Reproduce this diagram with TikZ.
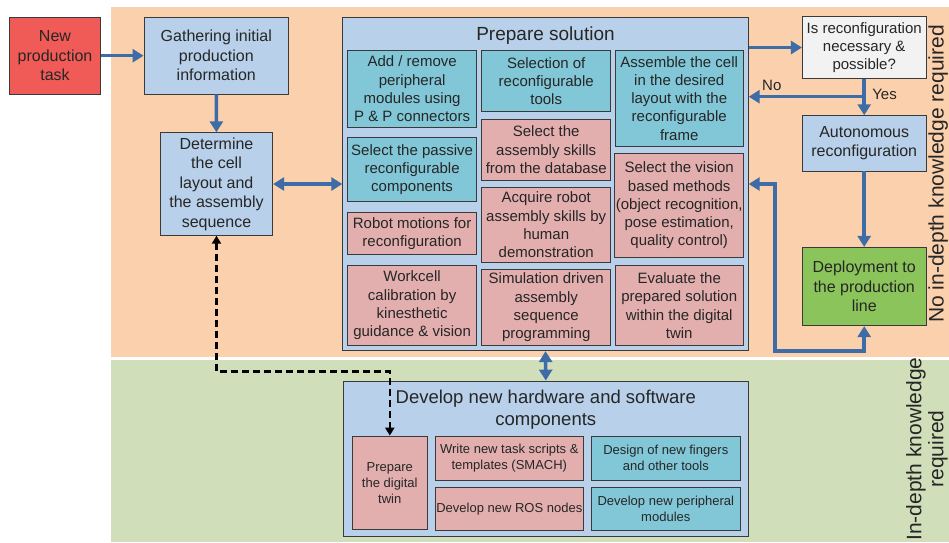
\documentclass[tikz,border=0pt]{standalone}
\usepackage{fontspec}
\setmainfont{Liberation Sans}
\usepackage{tikz}
\usetikzlibrary{arrows.meta,positioning,calc}

\definecolor{orangebg}{HTML}{FBD0AC}
\definecolor{greenbg}{HTML}{D0DFBA}
\definecolor{boxblue}{HTML}{B9D0EA}
\definecolor{boxteal}{HTML}{82C7D7}
\definecolor{boxpink}{HTML}{E2AFAE}
\definecolor{boxred}{HTML}{F15B57}
\definecolor{boxgreen}{HTML}{8BC45A}
\definecolor{boxgray}{HTML}{F2F2F2}
\definecolor{boxline}{HTML}{3A3A3A}
\definecolor{arrowblue}{HTML}{3D6CA6}
\definecolor{txt}{HTML}{262626}

\tikzset{sz/.style 2 args={minimum width=#1, minimum height=#2}}

\begin{document}
\begin{tikzpicture}[x=1pt,y=-1pt]
  \tikzstyle{box}=[draw=boxline, line width=0.8pt, align=center, text=txt, inner sep=1pt, font=\fontsize{16}{19.5}\selectfont]
  \tikzstyle{bluebox}=[box, fill=boxblue]
  \tikzstyle{tealbox}=[box, fill=boxteal, font=\fontsize{15}{18.3}\selectfont]
  \tikzstyle{pinkbox}=[box, fill=boxpink, font=\fontsize{15}{18.3}\selectfont]
  \tikzstyle{small}=[font=\fontsize{13}{16}\selectfont]
  \tikzstyle{arr}=[draw=arrowblue, line width=3.5pt, -{Triangle[length=11pt,width=13pt]}]
  \tikzstyle{arr2}=[draw=arrowblue, line width=3.5pt, {Triangle[length=11pt,width=13pt]}-{Triangle[length=11pt,width=13pt]}]
  \tikzstyle{dasharr}=[draw=black, line width=2.6pt, dash pattern=on 7pt off 4pt, {Triangle[length=8pt,width=9pt]}-{Triangle[length=8pt,width=9pt]}]

  \useasboundingbox (0,0) rectangle (949,542);

  % knowledge areas
  \fill[orangebg] (111,7.3) rectangle (949,356.7);
  \fill[greenbg] (111,360) rectangle (949,542);
  \node[rotate=90, anchor=base, text=txt, inner sep=0pt, font=\fontsize{21}{24}\selectfont] (noknow) at (943.5,174) {No in-depth knowledge required};
  \node[rotate=90, align=center, text=txt, inner sep=0pt, font=\fontsize{21}{22}\selectfont] (know) at (927,449) {In-depth knowledge\\required};

  % left column
  \node[box, fill=boxred, sz={91.4}{76.7}] (task) at (55,55.7) {New\\production\\task};
  \node[bluebox, sz={144.7}{76.7}] (gather) at (216.3,55.7) {Gathering initial\\production\\information};
  \node[bluebox, sz={112.4}{102.6}] (layout) at (216.5,184) {Determine\\the cell\\layout and\\the assembly\\sequence};

  % prepare solution
  \node[bluebox, sz={405.6}{333.4}] (prep) at (545.5,184) {};
  \node[anchor=base, text=txt, font=\fontsize{19}{22}\selectfont] (prepT) at (545.5,40.7) {Prepare solution};

  \node[tealbox, sz={129.2}{76.6}] (addrem) at (412.1,89) {Add / remove\\peripheral\\modules using\\P \& P connectors};
  \node[tealbox, sz={129.2}{64}] (passive) at (412.1,169.7) {Select the passive\\reconfigurable\\components};
  \node[pinkbox, sz={129.2}{42}] (motions) at (412.1,233.3) {Robot motions for\\reconfiguration};
  \node[pinkbox, sz={129.2}{80.7}] (calib) at (412.1,305.3) {Workcell\\calibration by\\kinesthetic\\guidance \& vision};

  \node[tealbox, sz={129}{61}] (tools) at (546.2,81.2) {Selection of\\reconfigurable\\tools};
  \node[pinkbox, sz={129}{60.7}] (skills) at (546.2,149.7) {Select the\\assembly skills\\from the database};
  \node[pinkbox, sz={129}{74.6}] (demo) at (546.2,225) {Acquire robot\\assembly skills by\\human\\demonstration};
  \node[pinkbox, sz={129}{76.4}] (simul) at (546.2,307.5) {Simulation driven\\assembly\\sequence\\programming};

  \node[tealbox, sz={128.3}{95.3}] (assemble) at (679.2,98.3) {Assemble the cell\\in the desired\\layout with the\\reconfigurable\\frame};
  \node[pinkbox, sz={128.3}{104.4}] (vision) at (679.2,205.5) {Select the vision\\based methods\\(object recognition,\\pose estimation,\\quality control)};
  \node[pinkbox, sz={128.3}{80}] (evaluate) at (679.2,305.7) {Evaluate the\\prepared solution\\within the digital\\twin};

  % right column
  \node[box, fill=boxgray, sz={123.7}{61.6}, font=\fontsize{15}{18}\selectfont] (decide) at (864.2,47.5) {Is reconfiguration\\necessary \&\\possible?};
  \node[bluebox, sz={123.7}{55.3}] (auto) at (864.2,143.3) {Autonomous\\reconfiguration};
  \node[box, fill=boxgreen, sz={123.7}{78.4}] (deploy) at (864.2,286.5) {Deployment to\\the production\\line};

  % develop new components
  \node[bluebox, sz={405}{155.7}] (dev) at (545.8,458.8) {};
  \node[anchor=north, align=center, text=txt, inner sep=0pt, font=\fontsize{18.5}{22.5}\selectfont] (devT) at (545.8,389.8) {Develop new hardware and software\\components};
  \node[pinkbox, small, sz={75}{93.3}] (twin) at (389.8,482.7) {Prepare\\the digital\\twin};
  \node[pinkbox, small, sz={148}{44}] (scripts) at (509.3,458) {Write new task scripts \&\\templates (SMACH)};
  \node[pinkbox, small, sz={148}{43.4}] (rosnodes) at (509.3,509) {Develop new ROS nodes};
  \node[tealbox, small, sz={148.3}{44}] (fingers) at (665.8,458) {Design of new fingers\\and other tools};
  \node[tealbox, small, sz={148.3}{43.4}] (periph) at (665.8,509) {Develop new peripheral\\modules};

  % connectors
  \coordinate (split) at (864.2,96.7);
  \draw[arr] (task) -- (gather);
  \draw[arr] (gather) -- (layout);
  \draw[arr2] (layout) -- (prep);
  \draw[arr] (prep.east |- decide.west) -- (decide.west);
  \draw[arr] (decide) -- (auto) node[pos=0.42, right=3pt, text=txt, font=\fontsize{15}{18}\selectfont] {Yes};
  \draw[arr] (split) -- (split -| prep.east) node[pos=0.8, above=1pt, text=txt, font=\fontsize{15}{18}\selectfont] {No};
  \draw[arr] (auto) -- (deploy);
  \draw[arr2] (prep.east) -- ++(26.5,0) |- ($(deploy.south)+(0,25)$) -- (deploy.south);
  \draw[arr2] (prep.south) -- (dev.north);
  \draw[dasharr] (layout.south) |- ($(twin.north)+(0,-64.3)$) -- (twin.north);
\end{tikzpicture}
\end{document}
